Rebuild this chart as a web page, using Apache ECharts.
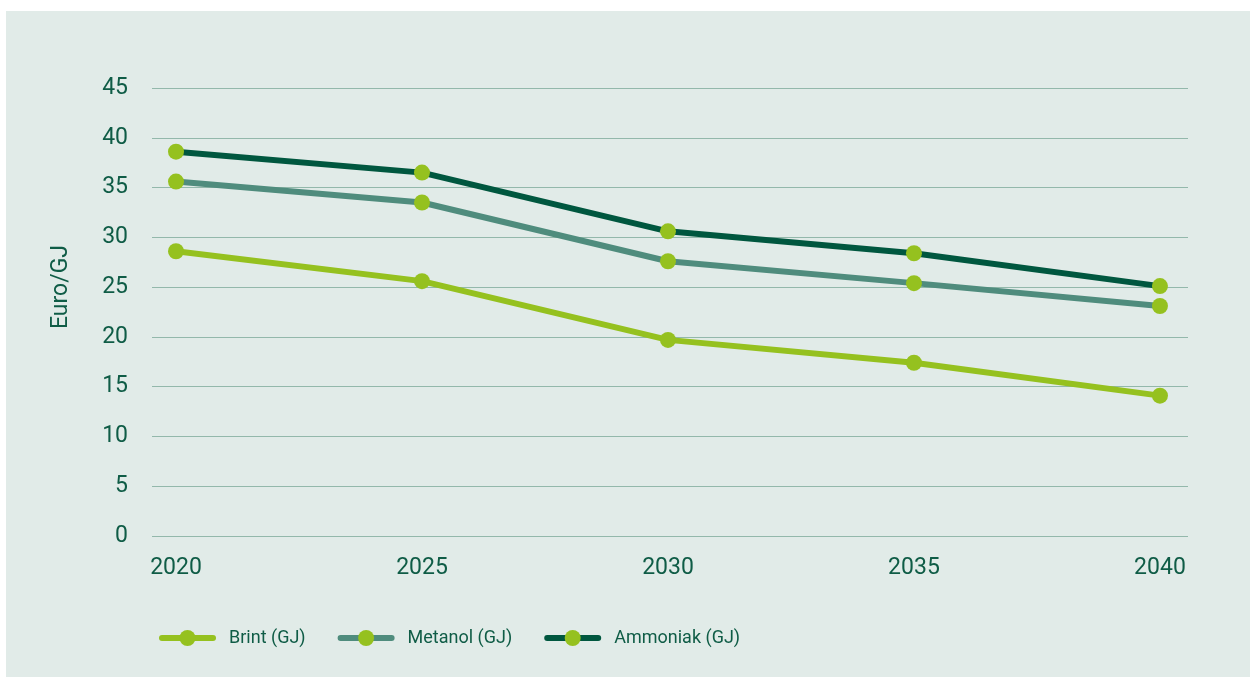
<!DOCTYPE html>
<html>
<head>
<meta charset="utf-8">
<script src="https://cdn.jsdelivr.net/npm/echarts@6/dist/echarts.min.js"></script>
<style>
  html, body { margin: 0; padding: 0; background: #ffffff; width: 1250px; height: 677px; overflow: hidden; }
  #chart { position: absolute; left: 6px; top: 11px; width: 1244px; height: 666px; background: #e1ebe8; }
</style>
</head>
<body>
<div id="chart"></div>
<script>
// Years on the x axis
const years = [2020, 2025, 2030, 2035, 2040];
// Cost per GJ (Euro)
const brint = [28.6, 25.6, 19.7, 17.4, 14.1];
const metanol = [35.6, 33.5, 27.6, 25.4, 23.1];
const ammoniak = [38.6, 36.5, 30.6, 28.4, 25.1];
const seriesNames = ['Brint (GJ)', 'Metanol (GJ)', 'Ammoniak (GJ)'];
const yTicks = [0, 5, 10, 15, 20, 25, 30, 35, 40, 45];

const textColor = '#0f5c46';
const markerColor = '#95c11f';
const lineColors = ['#95c11f', '#4f8c7d', '#00573f'];

function pairs(values) {
  return years.map((y, i) => [y, values[i]]);
}

function lineSeries(name, values, color) {
  return {
    name: name,
    type: 'line',
    data: pairs(values),
    symbol: 'circle',
    symbolSize: 16,
    lineStyle: { color: color, width: 6 },
    itemStyle: { color: markerColor, borderWidth: 0 },
    emphasis: { disabled: true },
    z: 3
  };
}

const chart = echarts.init(document.getElementById('chart'), null, { renderer: 'canvas' });
chart.setOption({
  animation: false,
  backgroundColor: '#e1ebe8',
  textStyle: { fontFamily: 'Roboto', color: textColor },
  grid: { left: 146, right: 62, top: 77, bottom: 141 },
  xAxis: {
    type: 'value',
    min: 2019.512,
    max: 2040.57,
    axisLine: { show: false },
    axisTick: { show: false },
    splitLine: { show: false },
    axisLabel: {
      customValues: years,
      formatter: v => String(v),
      color: textColor,
      fontSize: 23,
      margin: 21,
      fontFamily: 'Roboto'
    }
  },
  yAxis: {
    type: 'value',
    min: 0,
    max: 45,
    interval: 5,
    axisLine: { show: false },
    axisTick: { show: false },
    splitLine: { lineStyle: { color: '#93b8ab', width: 1 } },
    axisLabel: {
      customValues: yTicks,
      color: textColor,
      fontSize: 23,
      margin: 24,
      fontFamily: 'Roboto'
    }
  },
  legend: {
    data: seriesNames,
    left: 148,
    top: 613,
    itemWidth: 51,
    itemHeight: 20,
    itemGap: 32,
    lineStyle: { width: 6, cap: 'round' },
    textStyle: { color: textColor, fontSize: 18, fontFamily: 'Roboto', padding: [0, 0, 0, 11] }
  },
  graphic: [{
    type: 'text',
    x: 55,
    y: 276,
    rotation: Math.PI / 2,
    style: {
      text: 'Euro/GJ',
      fill: textColor,
      fontSize: 23,
      fontFamily: 'Roboto',
      align: 'center',
      verticalAlign: 'middle'
    }
  }],
  series: [
    lineSeries(seriesNames[0], brint, lineColors[0]),
    lineSeries(seriesNames[1], metanol, lineColors[1]),
    lineSeries(seriesNames[2], ammoniak, lineColors[2])
  ]
});
</script>
</body>
</html>
